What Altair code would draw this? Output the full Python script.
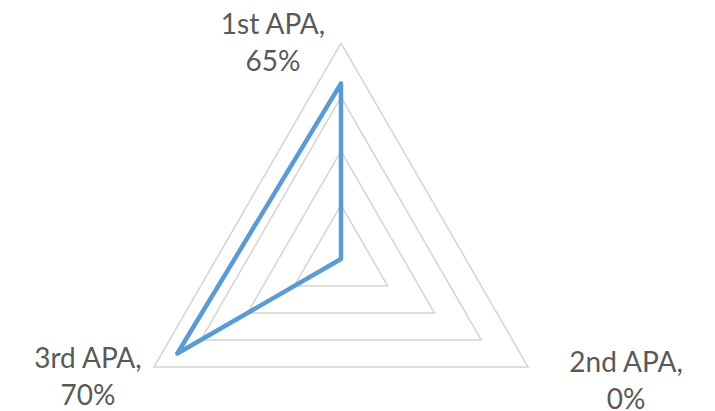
import math
import altair as alt
import pandas as pd

# ---- data ----
categories = ["1st APA", "2nd APA", "3rd APA"]
values = [0.65, 0.0, 0.70]
grid_levels = [0.2, 0.4, 0.6, 0.8]
r_max = 0.8

n = len(categories)
angles = [360.0 * i / n for i in range(n)]

def px(r, a):
    return r * math.sin(math.radians(a))

def py(r, a):
    return r * math.cos(math.radians(a))

# grid triangles
grid_rows = []
for lev in grid_levels:
    for k in range(n + 1):
        a = angles[k % n]
        grid_rows.append({"level": lev, "order": k, "x": px(lev, a), "y": py(lev, a)})
grid_df = pd.DataFrame(grid_rows)

# series polygon (closed)
series_rows = []
for k in range(n + 1):
    i = k % n
    series_rows.append({"order": k, "cat": categories[i],
                        "x": px(values[i], angles[i]), "y": py(values[i], angles[i])})
series_df = pd.DataFrame(series_rows)

# label anchors at the outer vertex of each axis
label_df = pd.DataFrame({
    "cat": categories,
    "label": [f"{c},\n{round(v * 100)}%" for c, v in zip(categories, values)],
    "x": [px(r_max, a) for a in angles],
    "y": [py(r_max, a) for a in angles],
})

W, H = 699, 403
k = 270.0
cx, cy = 333.0, 251.0
xs = alt.Scale(domain=[-cx / k, (W - cx) / k], nice=False, zero=False)
ys = alt.Scale(domain=[-(H - cy) / k, cy / k], nice=False, zero=False)

grid = alt.Chart(grid_df).mark_line(color="#D4D4D4", strokeWidth=1.5).encode(
    x=alt.X("x:Q", scale=xs, axis=None),
    y=alt.Y("y:Q", scale=ys, axis=None),
    detail="level:N",
    order="order:Q",
)

series = alt.Chart(series_df).mark_line(
    color="#5B9BD5", strokeWidth=4.5, strokeJoin="round", strokeCap="round"
).encode(
    x=alt.X("x:Q", scale=xs, axis=None),
    y=alt.Y("y:Q", scale=ys, axis=None),
    order="order:Q",
)

offsets = {"1st APA": (-68, -9), "2nd APA": (98, 5), "3rd APA": (-66, 1)}
texts = []
for c in categories:
    dx, dy = offsets[c]
    t = alt.Chart(label_df).transform_filter(alt.datum.cat == c).mark_text(
        font="Lato", fontSize=28, color="#595959", align="center",
        baseline="alphabetic", lineBreak="\n", lineHeight=37, dx=dx, dy=dy,
    ).encode(
        x=alt.X("x:Q", scale=xs, axis=None),
        y=alt.Y("y:Q", scale=ys, axis=None),
        text="label:N",
    )
    texts.append(t)

chart = alt.layer(grid, series, *texts).properties(
    width=W, height=H, autosize=alt.AutoSizeParams(type="none"), padding=0
).configure_view(stroke=None)

chart.save("out.html", embed_options={"renderer": "svg", "actions": False})
